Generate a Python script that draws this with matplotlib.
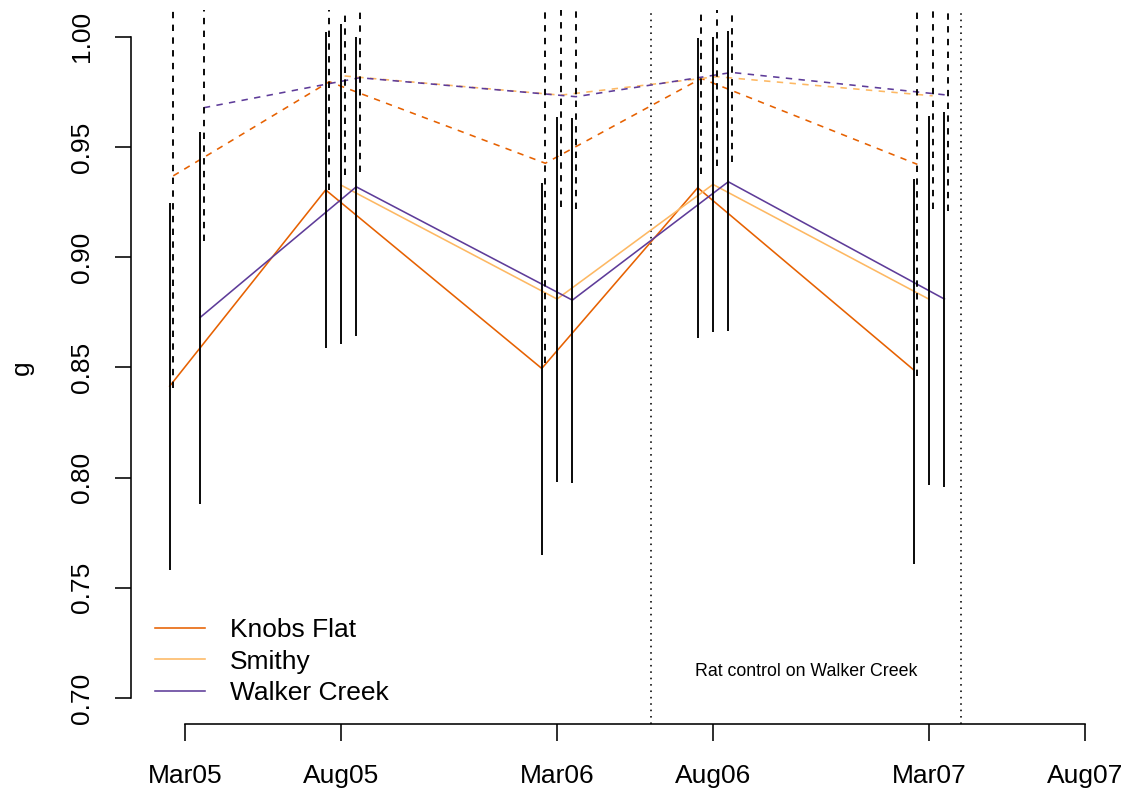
import numpy as np
import matplotlib
matplotlib.use("Agg")
import matplotlib.pyplot as plt
import matplotlib.dates as mdates
from datetime import date

plt.rcParams["font.family"] = ["Liberation Sans", "DejaVu Sans"]

# Trapping sessions and axis ticks
sessions = [date(2005, 3, 1), date(2005, 8, 1), date(2006, 3, 1),
            date(2006, 8, 1), date(2007, 3, 1)]
tick_dates = [date(2005, 3, 1), date(2005, 8, 1), date(2006, 3, 1),
              date(2006, 8, 1), date(2007, 3, 1), date(2007, 8, 1)]
tick_labels = ["Mar05", "Aug05", "Mar06", "Aug06", "Mar07", "Aug07"]

sites = ["Knobs Flat", "Smithy", "Walker Creek"]
site_colors = ["#E66101", "#FDB863", "#5E3C99"]
site_offset_days = [-15, 0, 15]
alt_offset_days = 3.5

nan = np.nan
# Model 1 estimates of g (solid) with interval limits
g1_knobs = [0.8415, 0.9305, 0.8495, 0.9315, 0.8488]
g1_knobs_lo = [0.7580, 0.8586, 0.7647, 0.8634, 0.7606]
g1_knobs_hi = [0.9244, 1.0023, 0.9335, 0.9995, 0.9354]
g1_smithy = [nan, 0.9327, 0.8810, 0.9330, 0.8809]
g1_smithy_lo = [nan, 0.8606, 0.7980, 0.8662, 0.7967]
g1_smithy_hi = [nan, 1.0056, 0.9637, 1.0000, 0.9642]
g1_walker = [0.8727, 0.9319, 0.8805, 0.9342, 0.8810]
g1_walker_lo = [0.7878, 0.8642, 0.7974, 0.8665, 0.7956]
g1_walker_hi = [0.9569, 1.0000, 0.9630, 1.0026, 0.9657]

# Model 2 estimates of g (dashed) with interval limits
g2_knobs = [0.9369, 0.9796, 0.9426, 0.9811, 0.9421]
g2_knobs_lo = [0.8407, 0.9305, 0.8520, 0.9376, 0.8462]
g2_knobs_hi = [1.030, 1.040, 1.035, 1.040, 1.035]
g2_smithy = [nan, 0.9822, 0.9735, 0.9819, 0.9732]
g2_smithy_lo = [nan, 0.9373, 0.9229, 0.9415, 0.9218]
g2_smithy_hi = [nan, 1.040, 1.035, 1.040, 1.035]
g2_walker = [0.9678, 0.9814, 0.9728, 0.9838, 0.9735]
g2_walker_lo = [0.9074, 0.9387, 0.9217, 0.9433, 0.9211]
g2_walker_hi = [1.035, 1.040, 1.035, 1.040, 1.035]

rat_control = (date(2006, 6, 1), date(2007, 4, 1))

g1 = [(g1_knobs, g1_knobs_lo, g1_knobs_hi),
      (g1_smithy, g1_smithy_lo, g1_smithy_hi),
      (g1_walker, g1_walker_lo, g1_walker_hi)]
g2 = [(g2_knobs, g2_knobs_lo, g2_knobs_hi),
      (g2_smithy, g2_smithy_lo, g2_smithy_hi),
      (g2_walker, g2_walker_lo, g2_walker_hi)]

W, H, DPI = 1129, 793, 100
fig = plt.figure(figsize=(W / DPI, H / DPI), dpi=DPI)
ax = fig.add_axes([131 / W, 1 - 724.4 / H, (1110 - 131) / W, (724.4 - 10.3) / H])

base = mdates.date2num(np.array(sessions, dtype="datetime64[D]"))
LW = 1.15
BAR_LW = 1.35
dash = (0, (4, 4))
bar_dash = (0, (3.4, 3.4))
FS = 19

handles = []
for i in range(3):
    xs = base + site_offset_days[i]
    xa = xs + alt_offset_days
    est, lo, hi = (np.array(a, dtype=float) for a in g1[i])
    est2, lo2, hi2 = (np.array(a, dtype=float) for a in g2[i])
    ok = ~np.isnan(est)
    h, = ax.plot(xs[ok], est[ok], color=site_colors[i], lw=LW, label=sites[i], zorder=2)
    handles.append(h)
    ok2 = ~np.isnan(est2)
    ax.plot(xa[ok2], est2[ok2], color=site_colors[i], lw=LW, linestyle=dash, zorder=2)
    for k in np.where(ok)[0]:
        ax.plot([xs[k], xs[k]], [lo[k], hi[k]], color="black", lw=BAR_LW, zorder=3,
                solid_capstyle="butt")
    for k in np.where(ok2)[0]:
        ax.plot([xa[k], xa[k]], [lo2[k], hi2[k]], color="black", lw=BAR_LW, zorder=3,
                linestyle=bar_dash, dash_capstyle="butt")

rc = mdates.date2num(np.array(rat_control, dtype="datetime64[D]"))
for xv in rc:
    ax.axvline(xv, color="black", lw=LW, linestyle=(0, (1, 3)), zorder=1)
ax.text(rc.mean(), 0.712, "Rat control on Walker Creek", ha="center", va="center",
        fontsize=12.8)

x0 = mdates.date2num(np.datetime64("2005-03-01"))
ax.set_xlim(x0 - 53.0, x0 + 907.5)
ax.set_ylim(0.688, 1.012)

ticks_x = mdates.date2num(np.array(tick_dates, dtype="datetime64[D]"))
ax.set_xticks(ticks_x)
ax.set_xticklabels(tick_labels)
yt = [0.70, 0.75, 0.80, 0.85, 0.90, 0.95, 1.00]
ax.set_yticks(yt)
ax.set_yticklabels([f"{v:.2f}" for v in yt])

for s in ["top", "right"]:
    ax.spines[s].set_visible(False)
ax.spines["left"].set_bounds(0.70, 1.00)
ax.spines["bottom"].set_bounds(ticks_x[0], ticks_x[-1])
for s in ["left", "bottom"]:
    ax.spines[s].set_linewidth(LW)

ax.tick_params(axis="x", length=12.2, width=LW, labelsize=FS, pad=16.5)
ax.tick_params(axis="y", length=11.5, width=LW, labelsize=FS, pad=15)
for t in ax.get_yticklabels():
    t.set_rotation(90)
    t.set_va("center")
    t.set_ha("right")

ax.text(-109 / 979, 0.5, "g", rotation=90, ha="center", va="center",
        fontsize=FS, transform=ax.transAxes)

leg = ax.legend(handles=handles, loc="lower left",
                bbox_to_anchor=((155 - 131) / 979, (724.4 - 705) / 714.1),
                frameon=False, fontsize=FS, handlelength=1.9, handletextpad=0.95,
                labelspacing=0.28, borderpad=0, borderaxespad=0)

fig.savefig("out.png", dpi=DPI)
